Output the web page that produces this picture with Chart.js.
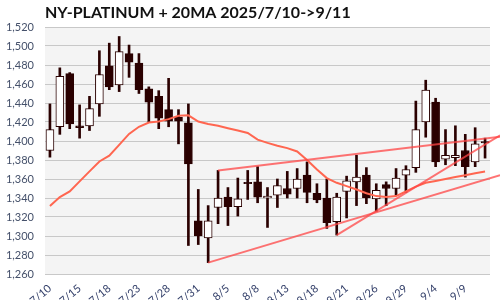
<!DOCTYPE html>
<html><head><meta charset="utf-8">
<script src="https://cdn.jsdelivr.net/npm/chart.js@4/dist/chart.umd.min.js"></script>
<style>html,body{margin:0;padding:0;background:#fff}</style>
</head><body>
<canvas id="c" width="500" height="300"></canvas>
<script>
const dates = ['7/10','7/11','7/14','7/15','7/16','7/17','7/18','7/21','7/22','7/23','7/24','7/25','7/28','7/29','7/30','7/31','8/1','8/4','8/5','8/6','8/7','8/8','8/11','8/12','8/13','8/14','8/15','8/18','8/19','8/20','8/21','8/22','8/25','8/26','8/27','8/28','8/29','9/2','9/3','9/4','9/5','9/8','9/9','9/10','9/11'];
const opens  = [1390,1415,1471,1416,1416,1439,1479,1459,1492,1482,1455,1447,1433,1425,1419,1316,1298,1330,1341,1331,1356.5,1357,1340,1343,1350,1350,1364,1345,1340,1315,1347,1357,1364,1339,1354,1350,1364,1372,1420,1441,1381,1382.5,1390,1378,1399.5];
const highs  = [1439,1477,1472,1438,1447,1495,1503,1510,1501,1492,1457,1453,1466,1433,1439,1349,1332,1369,1351,1361,1369,1373,1351,1360,1368,1371,1378,1355,1360,1345,1363,1385,1372,1355,1357,1371,1374,1442,1464,1445,1412,1416,1407,1414,1403];
const lows   = [1383,1407,1413,1403,1411,1426,1454,1452,1467,1450,1420,1413,1415,1397,1290,1291,1272,1313,1311,1321,1338.5,1335,1309,1330,1340,1340,1335,1335,1308,1301,1319,1332,1334,1326,1332,1343,1346,1367,1404,1373,1375,1374,1362,1373,1382];
const closes = [1412,1468,1418,1414,1434,1470,1457,1494,1483,1454,1441,1424,1421,1421,1376,1300,1316,1340,1331,1339,1355,1341,1342,1353,1344,1360,1346,1338,1314,1341,1358,1362,1340,1348,1350,1361,1370,1412,1453.5,1378,1385,1385,1373,1397,1398];
const ma20   = [1331.5,1341,1347,1357.5,1368,1378.5,1384.5,1396,1407.5,1415,1419.5,1420.5,1423,1426.5,1427,1420.5,1418,1416,1413.5,1411,1408.5,1401.5,1398,1395,1392.5,1389,1380,1370,1361,1356,1352.5,1349,1345,1342,1341,1342,1347,1352,1356,1358,1360,1362,1364,1366,1368];
const trendUpper = [{x:17,y:1369},{x:45.52,y:1404.5}];
const trendLower = [{x:16,y:1272},{x:45.52,y:1364}];
const trendSteep = [{x:29,y:1301},{x:45.52,y:1406}];
const yMin = 1260, yMax = 1520, yStep = 20;
const labelEvery = 3;
const titleText = 'NY-PLATINUM + 20MA 2025/7/10->9/11';

const DARK = '#2a0000';
const FONT = 'Lato, "Open Sans", sans-serif';
const idx = dates.map((d,i)=>i);

const bgPlugin = {
  id:'plotbg',
  beforeDraw(chart){
    const {ctx, chartArea:a} = chart;
    ctx.save(); ctx.fillStyle='#f4f4f4';
    ctx.fillRect(a.left, a.top, a.right-a.left, a.bottom-a.top);
    ctx.restore();
  },
  afterDraw(chart){
    const {ctx, chartArea:a} = chart;
    ctx.save();
    ctx.font = 'bold 16px ' + FONT;
    ctx.fillStyle = '#111';
    ctx.textBaseline = 'middle';
    ctx.textAlign = 'left';
    ctx.fillText(titleText, a.left, 13);
    ctx.restore();
  }
};

new Chart(document.getElementById('c'), {
  type:'bar',
  data:{
    datasets:[
      {type:'line', data:trendUpper, borderColor:'rgba(255,70,70,0.75)', borderWidth:2, pointRadius:0, clip:false, order:0},
      {type:'line', data:trendLower, borderColor:'rgba(255,70,70,0.75)', borderWidth:2, pointRadius:0, clip:false, order:0},
      {type:'line', data:trendSteep, borderColor:'rgba(255,70,70,0.75)', borderWidth:2, pointRadius:0, clip:false, order:0},
      {type:'line', data:idx.map(i=>({x:i,y:ma20[i]})), borderColor:'#ff6650', borderWidth:2, pointRadius:0, tension:0, order:1},
      {type:'bar', data:idx.map(i=>({x:i,y:[opens[i],closes[i]]})),
        backgroundColor:ctx=>{const i=ctx.dataIndex; return closes[i]>=opens[i]?'#ffffff':DARK;},
        borderColor:DARK, borderWidth:1, borderSkipped:false, barThickness:8, grouped:false, order:2},
      {type:'bar', data:idx.map(i=>({x:i,y:[lows[i],highs[i]]})),
        backgroundColor:DARK, borderWidth:0, barThickness:2, grouped:false, order:3}
    ]
  },
  options:{
    responsive:false, animation:false, devicePixelRatio:1,
    layout:{padding:{left:0,right:10,top:27,bottom:0}},
    plugins:{
      legend:{display:false}, tooltip:{enabled:false}, title:{display:false}
    },
    scales:{
      x:{type:'linear', min:-0.5, max:44.5, offset:false,
        grid:{display:false}, border:{display:false},
        afterBuildTicks:s=>{s.ticks = idx.filter(i=>i%labelEvery===0).map(v=>({value:v}));},
        afterFit:s=>{s.height=26;},
        ticks:{autoSkip:false, minRotation:40, maxRotation:40, padding:0, color:'#34406a',
          font:{family:FONT, size:11}, callback:v=>dates[v] ?? ''}
      },
      y:{min:yMin, max:yMax,
        grid:{color:'#c8c8c8', drawTicks:false}, border:{display:false},
        afterFit:s=>{s.width=45;},
        ticks:{stepSize:yStep, padding:11, color:'#44506a', font:{family:FONT, size:11},
          callback:v=>v.toLocaleString('en-US')}
      }
    }
  },
  plugins:[bgPlugin]
});
</script>
</body></html>
